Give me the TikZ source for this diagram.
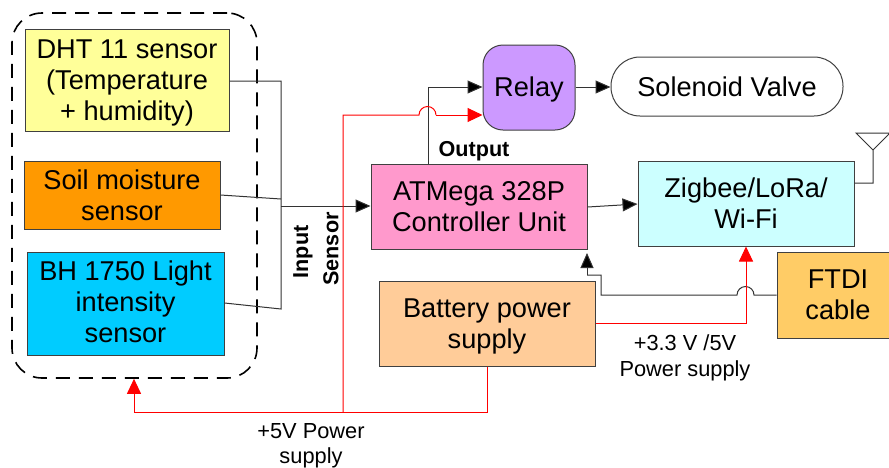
\documentclass[tikz,border=0pt]{standalone}
\usepackage{fontspec}
\setmainfont{Liberation Sans}
\usetikzlibrary{arrows.meta}
\tikzset{
  x=1pt,y=-1pt,
  blk/.style={draw=black!75,line width=1pt,align=center,inner sep=0pt,text=black,font=\fontsize{27.2}{31}\selectfont},
  wire/.style={draw=black!80,line width=1pt,line join=miter},
  arrw/.style={wire,-{Triangle[length=15pt,width=13pt,fill=black]}},
  pow/.style={draw=red,line width=1pt},
  powarr/.style={pow,-{Triangle[length=15pt,width=14pt,fill=red]}},
  lab/.style={align=center,inner sep=0pt,font=\fontsize{21.8}{25.5}\selectfont},
  blab/.style={align=center,inner sep=0pt,font=\fontsize{21.6}{25}\selectfont\bfseries}
}
\newcommand{\bx}[6]{\node[blk,fill=#6,minimum width=#3pt-#1pt,minimum height=#4pt-#2pt] (#5) at ({(#1+#3)/2},{(#2+#4)/2})}
\begin{document}
\begin{tikzpicture}
\useasboundingbox (0,0) rectangle (889,467);
\clip (0,0) rectangle (889,467);
\fill[white] (0,0) rectangle (889,467);
\definecolor{cdht}{HTML}{FFFF99}
\definecolor{csoil}{HTML}{FF9900}
\definecolor{cbh}{HTML}{00CCFF}
\definecolor{crel}{HTML}{CC99FF}
\definecolor{catm}{HTML}{FF99CC}
\definecolor{czig}{HTML}{CCFFFF}
\definecolor{cftdi}{HTML}{FFCC66}
\definecolor{cbat}{HTML}{FFCC99}
% group
\node[draw=black,line width=1.6pt,dash pattern=on 14pt off 9pt,rounded corners=30pt,minimum width=245pt,minimum height=365pt,inner sep=0pt] (group) at (134.5,195.5) {};
% boxes
\bx{25}{29}{229}{131}{dht}{cdht} {\rule{0pt}{25.5pt}DHT 11 sensor\\(Temperature\\+ humidity)};
\bx{24}{161}{220}{229}{soil}{csoil} {Soil moisture\\sensor};
\bx{27}{252}{224}{355}{bh}{cbh} {BH 1750 Light\\intensity\\sensor\rule[-4pt]{0pt}{4pt}};
\node[blk,fill=crel,rounded corners=20pt,minimum width=92pt,minimum height=85pt] (relay) at (529,87.5) {\rule{0pt}{23.5pt}Relay};
\node[blk,fill=white,rounded corners=29pt,minimum width=232pt,minimum height=59pt] (valve) at (727,86.5) {Solenoid Valve};
\bx{371}{164}{587}{249}{atm}{catm} {ATMega 328P\\Controller Unit};
\bx{638}{161}{854}{246}{zig}{czig} {Zigbee/LoRa/\\Wi-Fi};
\bx{777}{252}{899}{338}{ftdi}{cftdi} {FTDI\\cable};
\bx{379}{281}{595}{366}{bat}{cbat} {\rule{0pt}{25.5pt}Battery power\\supply};
% labels
\node[blab] (lout) at (474,151) {Output};
\node[blab,rotate=90] (lin) at (303,252) {Input};
\node[blab,rotate=90] (lsen) at (331,249) {Sensor};
\node[lab] (l33) at (685,358) {+3.3 V /5V\\Power supply};
\node[lab] (l5) at (311,446) {+5V Power\\supply};
% junctions
\coordinate (jt) at (281,81);
\coordinate (js) at (281,199);
\coordinate (jb) at (281,309);
\coordinate (ji) at (281,206);
\coordinate (jp) at (343,412);
\coordinate (jr) at (343,115);
\coordinate (hl) at (419,115);
\coordinate (hr) at (436,115);
\coordinate (ou) at (428,87);
\coordinate (oa) at (428,164);
\coordinate (gin) at (134,412);
\coordinate (bd) at (487,412);
\coordinate (f1) at (754,295);
\coordinate (f3) at (601,295);
\coordinate (f4) at (601,275);
\coordinate (f5) at (587,275);
\coordinate (p1) at (746,323);
\coordinate (an1) at (873,183);
\coordinate (an2) at (873,150);
\coordinate (an3) at (856,133);
\coordinate (an4) at (890,133);
% sensor wires
\draw[wire] (dht.east |- jt) -- (jt) -- (jb) -- (bh.east |- 0,303);
\draw[wire] (soil.east |- 0,195) -- (js);
\draw[arrw] (ji) -- (atm.west |- ji);
% output
\draw[arrw] (oa) -- (ou) -- (relay.west |- ou);
\draw[arrw] (relay.east |- 0,87) -- (valve.west |- 0,87);
\draw[arrw] (atm.east |- 0,207) -- (zig.west |- 0,204);
% antenna
\draw[wire] (zig.east |- an1) -- (an1) -- (an2) -- (an3) -- (an4) -- (an2);
% ftdi
\draw[wire] (ftdi.west |- f1) -- (f1) arc[start angle=0,end angle=180,radius=8.5pt] -- (f3) -- (f4) -- (f5);
\draw[arrw] (f5) -- (587,253);
% power
\draw[powarr] (bat.east |- p1) -- (p1) -- (zig.south -| p1);
\draw[powarr] (bat.south -| bd) -- (bd) -- (gin) -- (group.south -| gin);
\draw[pow] (jp) -- (jr) -- (hl) arc[start angle=180,end angle=0,radius=8.5pt];
\draw[powarr] (hr) -- (relay.west |- hr);
\end{tikzpicture}
\end{document}
